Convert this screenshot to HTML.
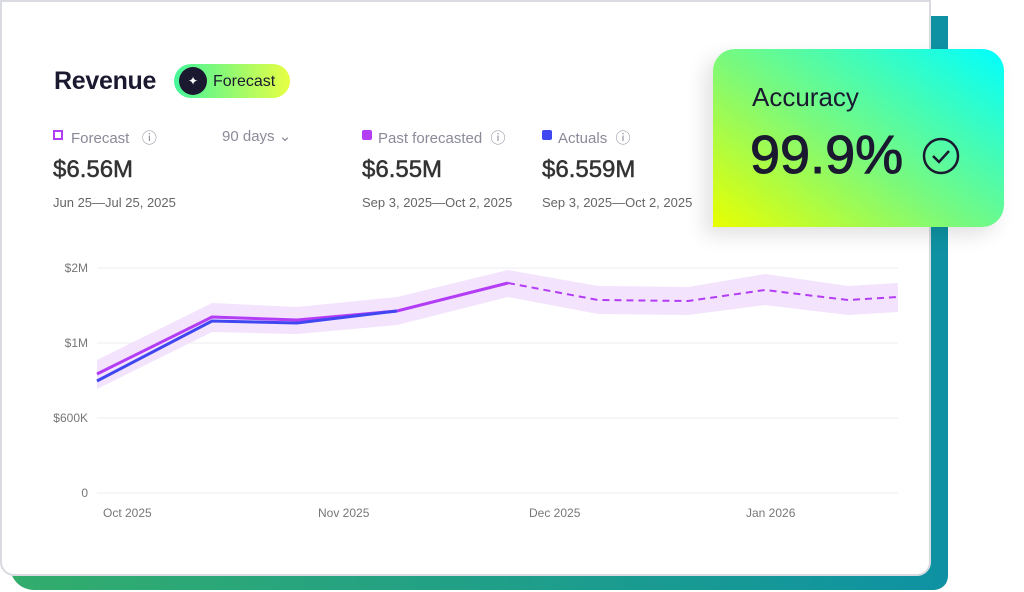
<!DOCTYPE html>
<html><head><style>
body{margin:0;width:1024px;height:592px;overflow:hidden;background:#fff;font-family:"Liberation Sans",sans-serif;position:relative}
.back{position:absolute;left:10px;top:16px;width:938px;height:574px;border-radius:0 0 14px 24px;background:linear-gradient(90deg,#33ad6c,#0e92a3)}
.card{position:absolute;left:0;top:0;width:931px;height:576px;background:#fff;border:2px solid #d9dbe0;border-radius:0 0 14px 14px;box-sizing:border-box}
.t{position:absolute;white-space:nowrap;color:#1a1930}
.g{color:#8a8a99}
.acc{position:absolute;left:713px;top:49px;width:291px;height:178px;border-radius:22px 22px 22px 0;background:linear-gradient(35deg,#e8ff00 0%,#7cf97a 45%,#00ffff 100%);box-shadow:-8px 8px 20px rgba(0,0,0,0.12)}
</style></head><body>
<div class="back"></div>
<div class="card"></div>
<div class="t" style="left:54px;top:67px;font-size:25px;font-weight:bold;letter-spacing:-0.3px">Revenue</div>
<div style="position:absolute;left:174px;top:64px;width:116px;height:34px;border-radius:17px;background:linear-gradient(90deg,#44f59a,#e8ff44)"></div>
<div style="position:absolute;left:179px;top:67px;width:28px;height:28px;border-radius:50%;background:#1a1930;color:#fff;font-size:12px;text-align:center;line-height:28px">✦</div>
<div class="t" style="left:213px;top:73px;font-size:16px">Forecast</div>
<div style="position:absolute;left:53px;top:130px;width:10px;height:10px;border:2px dashed #b33cf5;box-sizing:border-box"></div>
<div class="t g" style="left:71px;top:127px;font-size:15px">Forecast &nbsp; ⓘ</div>
<div class="t g" style="left:222px;top:127px;font-size:15px">90 days ⌄</div>
<div style="position:absolute;left:362px;top:130px;width:10px;height:10px;background:#b33cf5;border-radius:2px"></div>
<div class="t g" style="left:378px;top:127px;font-size:15px">Past forecasted &nbsp;ⓘ</div>
<div style="position:absolute;left:542px;top:130px;width:10px;height:10px;background:#4047f0;border-radius:2px"></div>
<div class="t g" style="left:558px;top:127px;font-size:15px">Actuals &nbsp;ⓘ</div>
<div class="t" style="left:53px;top:156px;font-size:24px;color:#333;-webkit-text-stroke:0.5px #333">$6.56M</div>
<div class="t" style="left:362px;top:156px;font-size:24px;color:#333;-webkit-text-stroke:0.5px #333">$6.55M</div>
<div class="t" style="left:542px;top:156px;font-size:24px;color:#333;-webkit-text-stroke:0.5px #333">$6.559M</div>
<div class="t g" style="left:53px;top:195px;font-size:13px;color:#666">Jun 25—Jul 25, 2025</div>
<div class="t g" style="left:362px;top:195px;font-size:13px;color:#666">Sep 3, 2025—Oct 2, 2025</div>
<div class="t g" style="left:542px;top:195px;font-size:13px;color:#666">Sep 3, 2025—Oct 2, 2025</div>
<svg style="position:absolute;left:0;top:0" width="1024" height="592" font-family="Liberation Sans" font-size="12" fill="#777">
<g stroke="#eeeef0" stroke-width="1"><line x1="97" x2="898" y1="268" y2="268"/><line x1="97" x2="898" y1="343" y2="343"/><line x1="97" x2="898" y1="418" y2="418"/><line x1="97" x2="898" y1="493" y2="493"/></g>
<text x="88" y="272" text-anchor="end">$2M</text><text x="88" y="347" text-anchor="end">$1M</text><text x="88" y="422" text-anchor="end">$600K</text><text x="88" y="497" text-anchor="end">0</text>
<text x="103" y="517">Oct 2025</text><text x="318" y="517">Nov 2025</text><text x="529" y="517">Dec 2025</text><text x="746" y="517">Jan 2026</text>
<polygon fill="#f3e3fd" points="97,360 212,303 297,307 397,297 508,270 598,286 688,287 765,274 848,286 898,283 898,312 848,315 765,305 688,315 598,314 508,297 397,325 297,334 212,332 97,389"/>
<polyline fill="none" stroke="#b33cf5" stroke-width="3" points="97,374 212,317 297,320 397,311 508,283"/>
<polyline fill="none" stroke="#4047f0" stroke-width="3" points="97,381 212,321 297,323 397,311"/>
<polyline fill="none" stroke="#b33cf5" stroke-width="2" stroke-dasharray="7,5" points="508,283 598,300 688,301 765,290 848,300 898,297"/>
</svg>
<div class="acc"></div>
<div class="t" style="left:752px;top:82px;font-size:26px">Accuracy</div>
<div class="t" style="left:750px;top:124px;font-size:54px;-webkit-text-stroke:1px #1a1930">99.9%</div>
<svg style="position:absolute;left:921px;top:136px" width="40" height="40"><circle cx="20" cy="20" r="17" fill="none" stroke="#1a1930" stroke-width="2.5"/><polyline points="12,20 18,26 28,15" fill="none" stroke="#1a1930" stroke-width="2.5"/></svg>
</body></html>
